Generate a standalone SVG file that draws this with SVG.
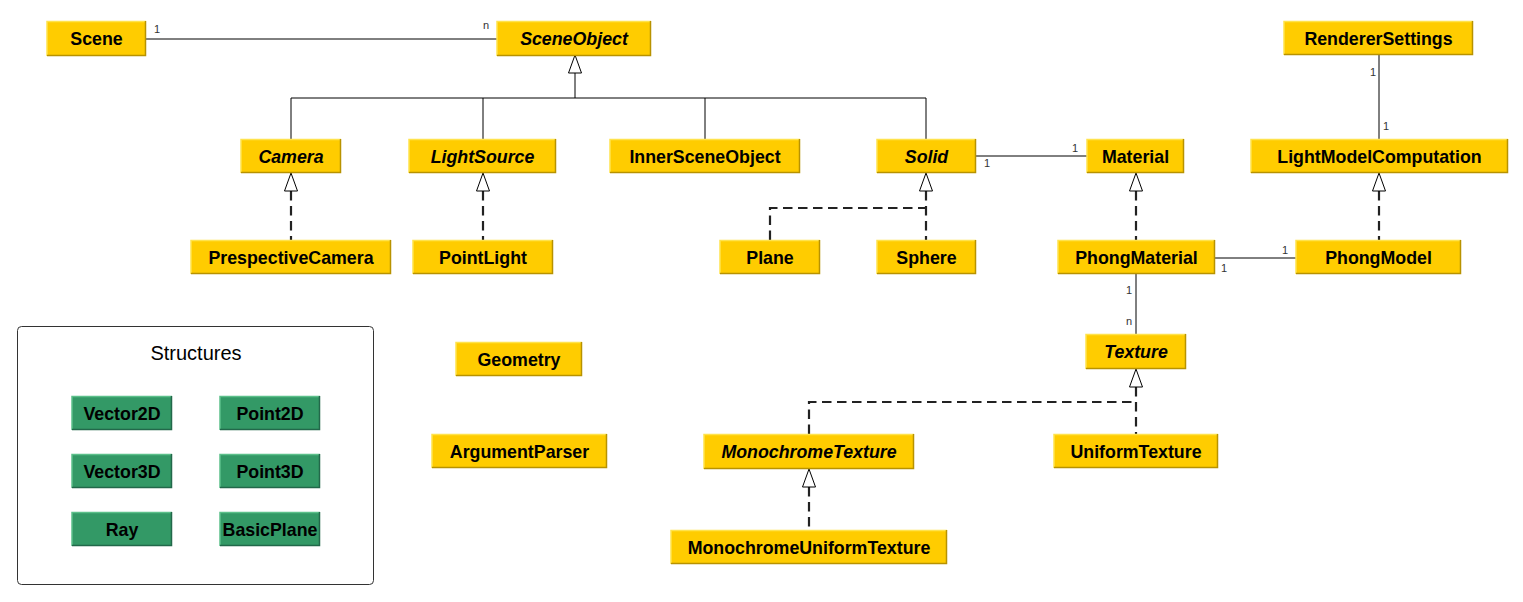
<svg xmlns="http://www.w3.org/2000/svg" width="1523" height="602" viewBox="0 0 1523 602">
<style>
.y{fill:#ffcc00;stroke:none}
.hl{fill:none;stroke:#ffe34d;stroke-width:1.5}
.sh{fill:none;stroke:#b89200;stroke-width:1.5}
.g{fill:#339966;stroke:none}
.ghl{fill:none;stroke:#5cc08a;stroke-width:1.5}
.gsh{fill:none;stroke:#22684a;stroke-width:1.5}
.t{font-family:"Liberation Sans",Arial,sans-serif;font-weight:bold;font-size:17.8px;fill:#000;text-anchor:middle}
.i{font-style:italic}
.l{font-family:"Liberation Sans",Arial,sans-serif;font-size:11px;fill:#333}
.s{fill:none;stroke:#000;stroke-width:1}
.d{fill:none;stroke:#222;stroke-width:2.2;stroke-dasharray:9.5,5.5}
.a{fill:#fff;stroke:#000;stroke-width:1}
</style>
<defs>
<polygon id="tri" points="0,0 6.5,18 -6.5,18" class="a"/>
</defs>
<g id="connectors">
<line class="s" x1="146" y1="39" x2="497" y2="39"/>
<text class="l" x="154" y="33">1</text>
<text class="l" x="483" y="29">n</text>
<line class="s" x1="575" y1="72" x2="575" y2="98"/>
<polyline class="s" points="291,139 291,98 926,98 926,139"/>
<line class="s" x1="483" y1="98" x2="483" y2="139"/>
<line class="s" x1="705" y1="98" x2="705" y2="139"/>
<line class="d" x1="291" y1="191" x2="291" y2="240"/>
<line class="d" x1="483" y1="191" x2="483" y2="240"/>
<polyline class="d" points="770,240 770,208 926,208"/>
<line class="d" x1="926" y1="191" x2="926" y2="240"/>
<line class="s" x1="976" y1="156" x2="1087" y2="156"/>
<text class="l" x="984" y="167">1</text>
<text class="l" x="1072" y="152">1</text>
<line class="d" x1="1136" y1="191" x2="1136" y2="240"/>
<line class="s" x1="1379" y1="55" x2="1379" y2="139"/>
<text class="l" x="1370" y="76">1</text>
<text class="l" x="1383" y="130">1</text>
<line class="d" x1="1379" y1="191" x2="1379" y2="240"/>
<line class="s" x1="1215" y1="258" x2="1296" y2="258"/>
<text class="l" x="1282" y="254">1</text>
<text class="l" x="1221" y="272">1</text>
<line class="s" x1="1136" y1="274" x2="1136" y2="334"/>
<text class="l" x="1126" y="294">1</text>
<text class="l" x="1126" y="325">n</text>
<line class="d" x1="1136" y1="387" x2="1136" y2="434"/>
<polyline class="d" points="809,434 809,402 1136,402"/>
<line class="d" x1="809" y1="487" x2="809" y2="530"/>
<use href="#tri" x="575" y="55"/>
<use href="#tri" x="291" y="173"/>
<use href="#tri" x="483" y="173"/>
<use href="#tri" x="926" y="173"/>
<use href="#tri" x="1136" y="173"/>
<use href="#tri" x="1379" y="173"/>
<use href="#tri" x="1136" y="369"/>
<use href="#tri" x="809" y="469"/>
</g>
<g id="Scene"><rect class="y" x="47" y="21" width="99" height="35"/><polyline class="hl" points="47,56 47,21.5 146,21.5"/><polyline class="sh" points="47,55.5 145.5,55.5 145.5,21"/><text class="t" x="96.5" y="45">Scene</text></g>
<g id="SceneObject"><rect class="y" x="497" y="21" width="154" height="35"/><polyline class="hl" points="497,56 497,21.5 651,21.5"/><polyline class="sh" points="497,55.5 650.5,55.5 650.5,21"/><text class="t i" x="574" y="45">SceneObject</text></g>
<g id="RendererSettings"><rect class="y" x="1284" y="21" width="189" height="34"/><polyline class="hl" points="1284,55 1284,21.5 1473,21.5"/><polyline class="sh" points="1284,54.5 1472.5,54.5 1472.5,21"/><text class="t" x="1378.5" y="45">RendererSettings</text></g>
<g id="Camera"><rect class="y" x="241" y="139" width="100" height="34"/><polyline class="hl" points="241,173 241,139.5 341,139.5"/><polyline class="sh" points="241,172.5 340.5,172.5 340.5,139"/><text class="t i" x="291" y="163">Camera</text></g>
<g id="LightSource"><rect class="y" x="409" y="139" width="147" height="34"/><polyline class="hl" points="409,173 409,139.5 556,139.5"/><polyline class="sh" points="409,172.5 555.5,172.5 555.5,139"/><text class="t i" x="482.5" y="163">LightSource</text></g>
<g id="InnerSceneObject"><rect class="y" x="610" y="139" width="190" height="34"/><polyline class="hl" points="610,173 610,139.5 800,139.5"/><polyline class="sh" points="610,172.5 799.5,172.5 799.5,139"/><text class="t" x="705" y="163">InnerSceneObject</text></g>
<g id="Solid"><rect class="y" x="877" y="139" width="99" height="34"/><polyline class="hl" points="877,173 877,139.5 976,139.5"/><polyline class="sh" points="877,172.5 975.5,172.5 975.5,139"/><text class="t i" x="926.5" y="163">Solid</text></g>
<g id="Material"><rect class="y" x="1087" y="139" width="97" height="34"/><polyline class="hl" points="1087,173 1087,139.5 1184,139.5"/><polyline class="sh" points="1087,172.5 1183.5,172.5 1183.5,139"/><text class="t" x="1135.5" y="163">Material</text></g>
<g id="LightModelComputation"><rect class="y" x="1251" y="139" width="257" height="34"/><polyline class="hl" points="1251,173 1251,139.5 1508,139.5"/><polyline class="sh" points="1251,172.5 1507.5,172.5 1507.5,139"/><text class="t" x="1379.5" y="163">LightModelComputation</text></g>
<g id="PrespectiveCamera"><rect class="y" x="191" y="240" width="200" height="34"/><polyline class="hl" points="191,274 191,240.5 391,240.5"/><polyline class="sh" points="191,273.5 390.5,273.5 390.5,240"/><text class="t" x="291" y="264">PrespectiveCamera</text></g>
<g id="PointLight"><rect class="y" x="413" y="240" width="140" height="34"/><polyline class="hl" points="413,274 413,240.5 553,240.5"/><polyline class="sh" points="413,273.5 552.5,273.5 552.5,240"/><text class="t" x="483" y="264">PointLight</text></g>
<g id="Plane"><rect class="y" x="720" y="240" width="100" height="34"/><polyline class="hl" points="720,274 720,240.5 820,240.5"/><polyline class="sh" points="720,273.5 819.5,273.5 819.5,240"/><text class="t" x="770" y="264">Plane</text></g>
<g id="Sphere"><rect class="y" x="877" y="240" width="99" height="34"/><polyline class="hl" points="877,274 877,240.5 976,240.5"/><polyline class="sh" points="877,273.5 975.5,273.5 975.5,240"/><text class="t" x="926.5" y="264">Sphere</text></g>
<g id="PhongMaterial"><rect class="y" x="1058" y="240" width="157" height="34"/><polyline class="hl" points="1058,274 1058,240.5 1215,240.5"/><polyline class="sh" points="1058,273.5 1214.5,273.5 1214.5,240"/><text class="t" x="1136.5" y="264">PhongMaterial</text></g>
<g id="PhongModel"><rect class="y" x="1296" y="240" width="165" height="34"/><polyline class="hl" points="1296,274 1296,240.5 1461,240.5"/><polyline class="sh" points="1296,273.5 1460.5,273.5 1460.5,240"/><text class="t" x="1378.5" y="264">PhongModel</text></g>
<g id="Geometry"><rect class="y" x="456" y="342" width="126" height="34"/><polyline class="hl" points="456,376 456,342.5 582,342.5"/><polyline class="sh" points="456,375.5 581.5,375.5 581.5,342"/><text class="t" x="519" y="366">Geometry</text></g>
<g id="Texture"><rect class="y" x="1086" y="334" width="100" height="35"/><polyline class="hl" points="1086,369 1086,334.5 1186,334.5"/><polyline class="sh" points="1086,368.5 1185.5,368.5 1185.5,334"/><text class="t i" x="1136" y="358">Texture</text></g>
<g id="ArgumentParser"><rect class="y" x="432" y="434" width="175" height="34"/><polyline class="hl" points="432,468 432,434.5 607,434.5"/><polyline class="sh" points="432,467.5 606.5,467.5 606.5,434"/><text class="t" x="519.5" y="458">ArgumentParser</text></g>
<g id="MonochromeTexture"><rect class="y" x="704" y="434" width="210" height="35"/><polyline class="hl" points="704,469 704,434.5 914,434.5"/><polyline class="sh" points="704,468.5 913.5,468.5 913.5,434"/><text class="t i" x="809" y="458">MonochromeTexture</text></g>
<g id="UniformTexture"><rect class="y" x="1054" y="434" width="164" height="34"/><polyline class="hl" points="1054,468 1054,434.5 1218,434.5"/><polyline class="sh" points="1054,467.5 1217.5,467.5 1217.5,434"/><text class="t" x="1136" y="458">UniformTexture</text></g>
<g id="MonochromeUniformTexture"><rect class="y" x="671" y="530" width="276" height="34"/><polyline class="hl" points="671,564 671,530.5 947,530.5"/><polyline class="sh" points="671,563.5 946.5,563.5 946.5,530"/><text class="t" x="809" y="554">MonochromeUniformTexture</text></g>
<g id="Structures">
<rect x="17.5" y="326.5" width="356" height="258" rx="4" fill="#fff" stroke="#333" stroke-width="1"/>
<text x="196" y="360" font-family="'Liberation Sans',Arial,sans-serif" font-size="20" text-anchor="middle" fill="#000">Structures</text>
</g>
<g id="Vector2D"><rect class="g" x="72" y="396" width="100" height="34"/><polyline class="ghl" points="72,430 72,396.5 172,396.5"/><polyline class="gsh" points="72,429.5 171.5,429.5 171.5,396"/><text class="t" x="122" y="419.5">Vector2D</text></g>
<g id="Point2D"><rect class="g" x="220" y="396" width="100" height="34"/><polyline class="ghl" points="220,430 220,396.5 320,396.5"/><polyline class="gsh" points="220,429.5 319.5,429.5 319.5,396"/><text class="t" x="270" y="419.5">Point2D</text></g>
<g id="Vector3D"><rect class="g" x="72" y="454" width="100" height="34"/><polyline class="ghl" points="72,488 72,454.5 172,454.5"/><polyline class="gsh" points="72,487.5 171.5,487.5 171.5,454"/><text class="t" x="122" y="477.5">Vector3D</text></g>
<g id="Point3D"><rect class="g" x="220" y="454" width="100" height="34"/><polyline class="ghl" points="220,488 220,454.5 320,454.5"/><polyline class="gsh" points="220,487.5 319.5,487.5 319.5,454"/><text class="t" x="270" y="477.5">Point3D</text></g>
<g id="Ray"><rect class="g" x="72" y="512" width="100" height="34"/><polyline class="ghl" points="72,546 72,512.5 172,512.5"/><polyline class="gsh" points="72,545.5 171.5,545.5 171.5,512"/><text class="t" x="122" y="535.5">Ray</text></g>
<g id="BasicPlane"><rect class="g" x="220" y="512" width="100" height="34"/><polyline class="ghl" points="220,546 220,512.5 320,512.5"/><polyline class="gsh" points="220,545.5 319.5,545.5 319.5,512"/><text class="t" x="270" y="535.5">BasicPlane</text></g>
</svg>
